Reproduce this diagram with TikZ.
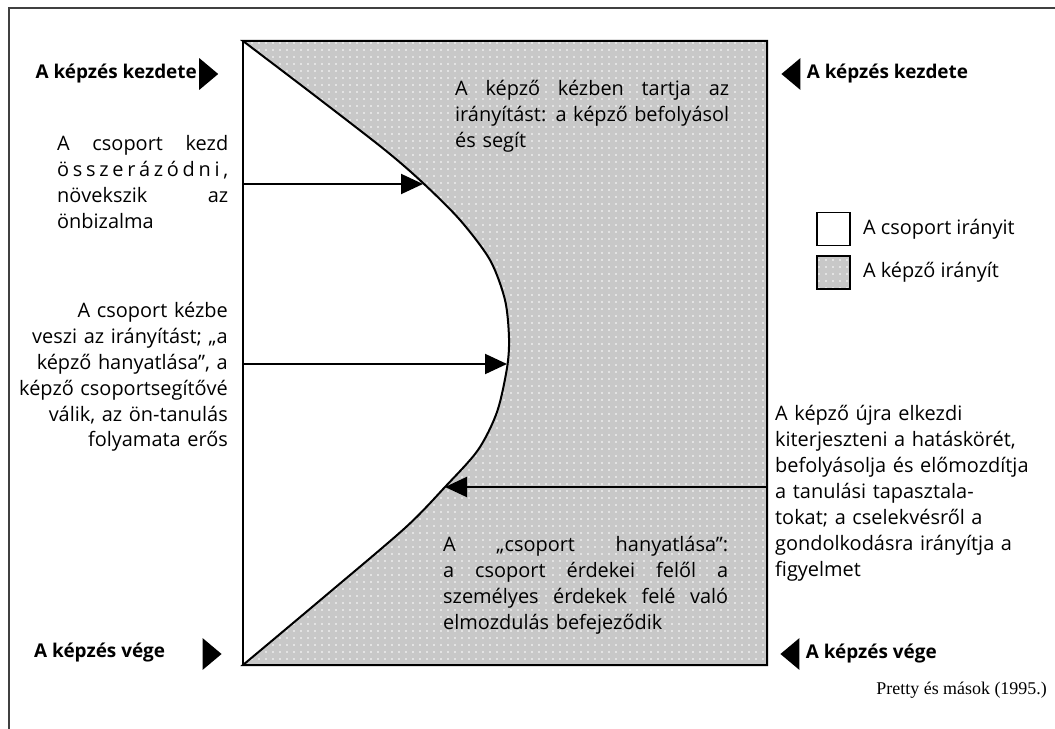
\documentclass[tikz,border=0pt]{standalone}
\usepackage{fontspec}
\setmainfont{Open Sans}
\newfontfamily\citefont{Liberation Serif}
\usetikzlibrary{shapes.geometric,arrows.meta,patterns.meta,positioning}
\newcommand{\jline}[1]{\makebox[\hsize][s]{\spaceskip=0pt\xspaceskip=0pt #1}}
\lineskiplimit=-50pt
\tikzset{
  txt/.style = {inner sep=0pt, font=\fontsize{20}{26}\selectfont},
  txt_l/.style = {txt, align=left, anchor=north west},
  txt_r/.style = {txt, align=right, anchor=north east},
  lbl_b/.style = {inner sep=0pt, font=\fontsize{19}{22}\selectfont\bfseries},
  mark_r/.style = {isosceles triangle, isosceles triangle apex angle=80, fill=black, inner sep=0pt, minimum height=19bp},
  mark_l/.style = {mark_r, shape border rotate=180},
  arr/.style = {line width=2bp, -{Triangle[length=22bp,width=20bp]}},
  shade_z/.style = {preaction={fill=gray!43}, preaction={pattern={Dots[distance=7bp,radius=0.9bp]}, pattern color=white}},
  box_w/.style = {draw, line width=1.8bp, minimum size=33bp, inner sep=0pt}
}
\begin{document}
\begin{tikzpicture}[x=1bp, y=-1bp]
	\useasboundingbox (0,0) rectangle (1055,729);
	\draw[line width=2bp, black!75] (1055,8) -- (9,8) -- (9,729);
	\draw[shade_z, line width=2bp] plot[smooth] coordinates {(243,41) (314,95) (385,150) (423,183) (460,220) (490,260) (505,300) (509,338) (507,368) (497,412) (478,450) (445,487) (405,528) (324,597) (243,665)} -- (767,665) -- (767,41) -- cycle;
	\draw[line width=2.5bp] (243,41) rectangle (767,665);

	\coordinate (a1s) at (243,184);
	\coordinate (a1e) at (423,184);
	\coordinate (a2s) at (243,364);
	\coordinate (a2e) at (507,364);
	\coordinate (a3s) at (767,487);
	\coordinate (a3e) at (445,487);
	\draw[arr] (a1s) -- (a1e);
	\draw[arr] (a2s) -- (a2e);
	\draw[arr] (a3s) -- (a3e);

	\node[lbl_b, anchor=east] (kz_l) at (197,74) {A képzés kezdete};
	\node[mark_r, right=2bp of kz_l] (mk_kz_l) {};
	\node[mark_l] (mk_kz_r) at (793,74) {};
	\node[lbl_b, right=6bp of mk_kz_r] (kz_r) {A képzés kezdete};
	\node[lbl_b, anchor=west] (vg_l) at (34,653) {A képzés vége};
	\node[mark_r] (mk_vg_l) at (210,654) {};
	\node[mark_l] (mk_vg_r) at (792,654) {};
	\node[lbl_b, right=6bp of mk_vg_r] (vg_r) {A képzés vége};

	\node[txt_l, text width=171bp] (t_kezd) at (57,135) {\jline{A csoport kezd}\\ \jline{ö\hfill s\hfill s\hfill z\hfill e\hfill r\hfill á\hfill z\hfill ó\hfill d\hfill n\hfill i\hfill ,}\\ \jline{növekszik az}\\ önbizalma};
	\node[txt_r, text width=215bp] (t_kezbe) at (228,302) {A csoport kézbe\\ veszi az irányítást; „a\\ képző hanyatlása”, a\\ képző csoportsegítővé\\ válik, az ön-tanulás\\ folyamata erős};
	\node[txt_l, text width=274bp] (t_kepzo) at (455,80) {\jline{A képző kézben tartja az}\\ \jline{irányítást: a képző befolyásol}\\ és segít};
	\node[txt_l, text width=265bp] (t_ujra) at (775,405.5) {A képző újra elkezdi\\ kiterjeszteni a hatáskörét,\\ befolyásolja és előmozdítja\\ a tanulási tapasztala-\\ tokat; a cselekvésről a\\ gondolkodásra irányítja a\\ figyelmet};
	\node[txt_l, text width=285bp] (t_hany) at (443,536) {\jline{A „csoport hanyatlása”:}\\ \jline{a csoport érdekei felől a}\\ \jline{személyes érdekek felé való}\\ elmozdulás befejeződik};

	\node[box_w] (lg_w) at (833.5,229) {};
	\node[box_w, shade_z] (lg_g) at (833.5,272.5) {};
	\node[txt, right=12bp of lg_w] (lg_wt) {A csoport irányit};
	\node[txt, right=12bp of lg_g] (lg_gt) {A képző irányít};

	\node[inner sep=0pt, anchor=east, font=\citefont\fontsize{18}{20}\selectfont] (src) at (1047,690) {Pretty és mások (1995.)};
\end{tikzpicture}
\end{document}
